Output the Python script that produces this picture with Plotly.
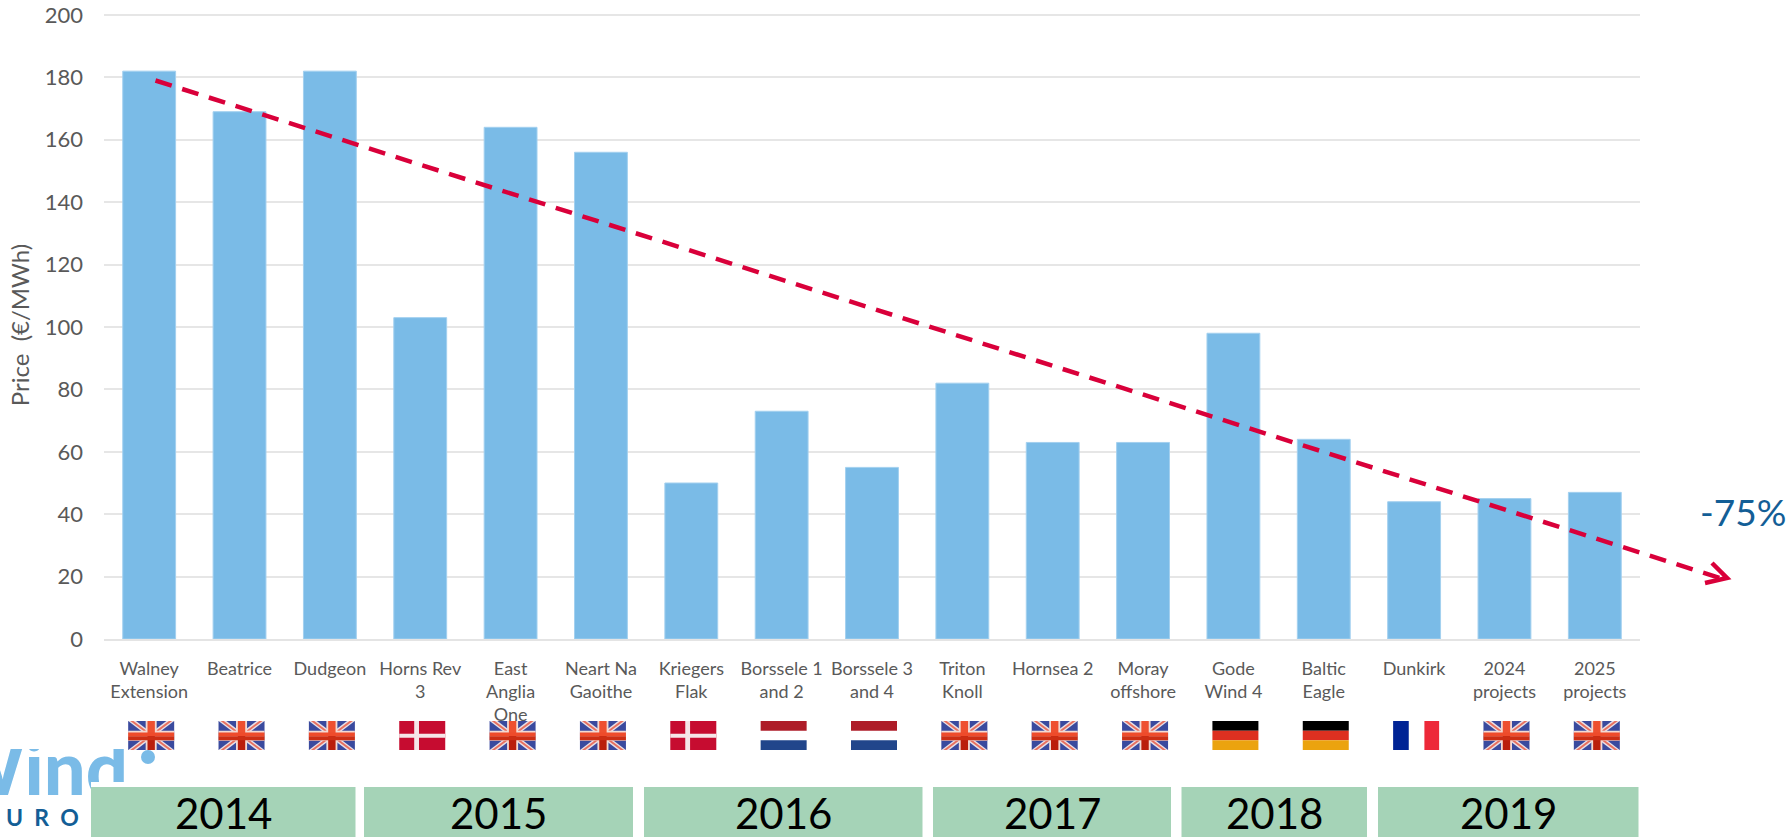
import plotly.graph_objects as go

projects = ["Walney<br>Extension", "Beatrice", "Dudgeon", "Horns Rev<br>3", "East<br>Anglia<br>One",
            "Neart Na<br>Gaoithe", "Kriegers<br>Flak", "Borssele 1<br>and 2", "Borssele 3<br>and 4",
            "Triton<br>Knoll", "Hornsea 2", "Moray<br>offshore", "Gode<br>Wind 4", "Baltic<br>Eagle",
            "Dunkirk", "2024<br>projects", "2025<br>projects"]
prices = [182, 169, 182, 103, 164, 156, 50, 73, 55, 82, 63, 63, 98, 64, 44, 45, 47]
countries = ["UK", "UK", "UK", "DK", "UK", "UK", "DK", "NL", "NL", "UK", "UK", "UK", "DE", "DE", "FR", "UK", "UK"]
y_ticks = [0, 20, 40, 60, 80, 100, 120, 140, 160, 180, 200]
trend_x = [0.07, 17.38]
trend_y = [179, 19.6]
years = ["2014", "2015", "2016", "2017", "2018", "2019"]
year_left = [91, 364, 644, 933, 1181.5, 1378]
year_right = [355.5, 633, 922.5, 1171, 1367, 1638.5]

L, R, T, B = 104, 1640, 11, 639
W, H = R - L, B - T
N = len(projects)
Y_TOP = 201.28  # leaves a few pixels above the 200 gridline so that it is drawn
def fx(p): return (p - L) / W
def fy(p): return (B - p) / H
def cat_px(i): return L + (i + 0.5) * W / N
def data_fx(v): return (v + 0.5) / N
def data_fy(v): return v / Y_TOP

shapes, annotations = [], []
def rect(x0, y0, x1, y1, color, **kw):
    shapes.append(dict(type="rect", xref="paper", yref="paper", x0=fx(x0), x1=fx(x1), y0=fy(y0), y1=fy(y1),
                       fillcolor=color, line_width=0, layer="above", **kw))
def poly(pts, color):
    d = "M" + "L".join(f"{fx(a):.5f},{fy(b):.5f}" for a, b in pts) + "Z"
    shapes.append(dict(type="path", xref="paper", yref="paper", path=d, fillcolor=color, line_width=0, layer="above"))

def flag(code, x, y=721, w=46, h=29):
    if code == "UK":
        rect(x, y, x + w, y + h, "#3A4A9E")
        for s0, s1, col in [(0, 0.17, "#E9E0E6"), (0.045, 0.115, "#E8705F")]:
            poly([(x + s0 * w, y), (x + s1 * w, y), (x + w - s0 * w, y + h), (x + w - s1 * w, y + h)], col)
            poly([(x + w - s0 * w, y), (x + w - s1 * w, y), (x + s0 * w, y + h), (x + s1 * w, y + h)], col)
        rect(x + w * .38, y, x + w * .62, y + h, "#F3D9D2")
        rect(x, y + h * .34, x + w, y + h * .68, "#F3D9D2")
        rect(x + w * .42, y, x + w * .58, y + h * .5, "#EE5030")
        rect(x + w * .42, y + h * .5, x + w * .58, y + h, "#BA1E0C")
        rect(x, y + h * .40, x + w, y + h * .53, "#EE4B2B")
        rect(x, y + h * .53, x + w, y + h * .66, "#CC2E14")
    elif code == "DK":
        rect(x, y, x + w, y + h, "#C60C30")
        rect(x + w * .325, y, x + w * .43, y + h, "#F5E6E8")
        rect(x, y + h * .44, x + w, y + h * .58, "#F5E6E8")
    elif code == "NL":
        rect(x, y, x + w, y + h / 3, "#AE1C28")
        rect(x, y + 2 * h / 3, x + w, y + h, "#21468B")
    elif code == "DE":
        rect(x, y, x + w, y + h / 3, "#000000")
        rect(x, y + h / 3, x + w, y + 2 * h / 3, "#DD3020")
        rect(x, y + 2 * h / 3, x + w, y + h, "#EBA30F")
    elif code == "FR":
        rect(x, y, x + w * .34, y + h, "#002395")
        rect(x + w * .68, y, x + w, y + h, "#ED2939")

# logo word, clipped on top by a white mask and at the bottom by white and the 2014 band
rect(-120, 729, 131, 801, "rgba(0,0,0,0)",
     label=dict(text="Wind", textposition="middle right", xanchor="right", yanchor="middle",
                padding=0, font=dict(family="Lato", size=74, color="#7ABBE7", weight=900)))
rect(0, 715, 135, 749, "#FFFFFF")
rect(91, 782, 135, 790, "#FFFFFF")
shapes.append(dict(type="circle", xref="paper", yref="paper", x0=fx(141), x1=fx(155), y0=fy(750), y1=fy(764),
                   fillcolor="#7ABBE7", line_width=0, layer="above"))

for i, c in enumerate(countries):
    flag(c, cat_px(i) - 21)

for yr, a, b in zip(years, year_left, year_right):
    rect(a, 787, b, 837, "#A5D3B7")
    annotations.append(dict(text=yr, xref="paper", yref="paper", x=fx((a + b) / 2), y=fy(813), showarrow=False,
                            xanchor="center", yanchor="middle", font=dict(family="Lato", size=42, color="#000000")))

annotations.append(dict(text="-75%", xref="paper", yref="paper", x=fx(1743), y=fy(511), showarrow=False,
                        xanchor="center", yanchor="middle", font=dict(family="Lato", size=37, color="#135E96")))
annotations.append(dict(text="U\u00a0\u00a0R\u00a0\u00a0O", xref="paper", yref="paper", x=fx(42), y=fy(816.5),
                        showarrow=False, xanchor="center", yanchor="middle",
                        font=dict(family="Lato", size=23, color="#135E96", weight="bold")))

# trend line runs past the plot area, so it is placed on the paper from its data values
shapes.append(dict(type="line", xref="paper", yref="paper",
                   x0=data_fx(trend_x[0]), y0=data_fy(trend_y[0]), x1=data_fx(trend_x[1]), y1=data_fy(trend_y[1]),
                   line=dict(color="#D9003A", width=4.5, dash="17px,11px"), layer="above"))
shapes.append(dict(type="path", xref="paper", yref="paper",
                   path=f"M{fx(1712)},{fy(563)}L{fx(1727)},{fy(578)}L{fx(1705)},{fy(583)}",
                   line=dict(color="#D9003A", width=4.5), fillcolor="rgba(0,0,0,0)", layer="above"))

fig = go.Figure()
fig.add_trace(go.Bar(x=list(range(N)), y=prices, width=0.585, showlegend=False,
                     marker=dict(color="#7ABBE7", line=dict(color="#A3D0EF", width=1))))

fig.update_layout(
    width=1790, height=837, autosize=False, paper_bgcolor="#FFFFFF", plot_bgcolor="#FFFFFF",
    margin=dict(l=L, r=1790 - R, t=T, b=837 - B, autoexpand=False),
    shapes=shapes, annotations=annotations, font=dict(family="Lato", color="#595959"),
    xaxis=dict(range=[-0.5, N - 0.5], tickmode="array", tickvals=list(range(N)),
               ticktext=projects, tickangle=0, showgrid=False, zeroline=False, showline=True,
               linecolor="#E4E4E4", linewidth=2, ticks="", ticklabelstandoff=12,
               tickfont=dict(family="Lato", size=18, color="#595959")),
    yaxis=dict(range=[0, Y_TOP], tickmode="array", tickvals=y_ticks, showgrid=True, gridcolor="#E6E6E6", gridwidth=2,
               zeroline=False, ticks="", showline=False, ticklabelstandoff=20,
               tickfont=dict(family="Lato", size=22, color="#595959"),
               title=dict(text="Price  (€/MWh)", standoff=8, font=dict(family="Lato", size=24, color="#595959"))),
)
fig.write_html("out.html", config=dict(displayModeBar=False), post_script="document.body.style.margin='0';")
